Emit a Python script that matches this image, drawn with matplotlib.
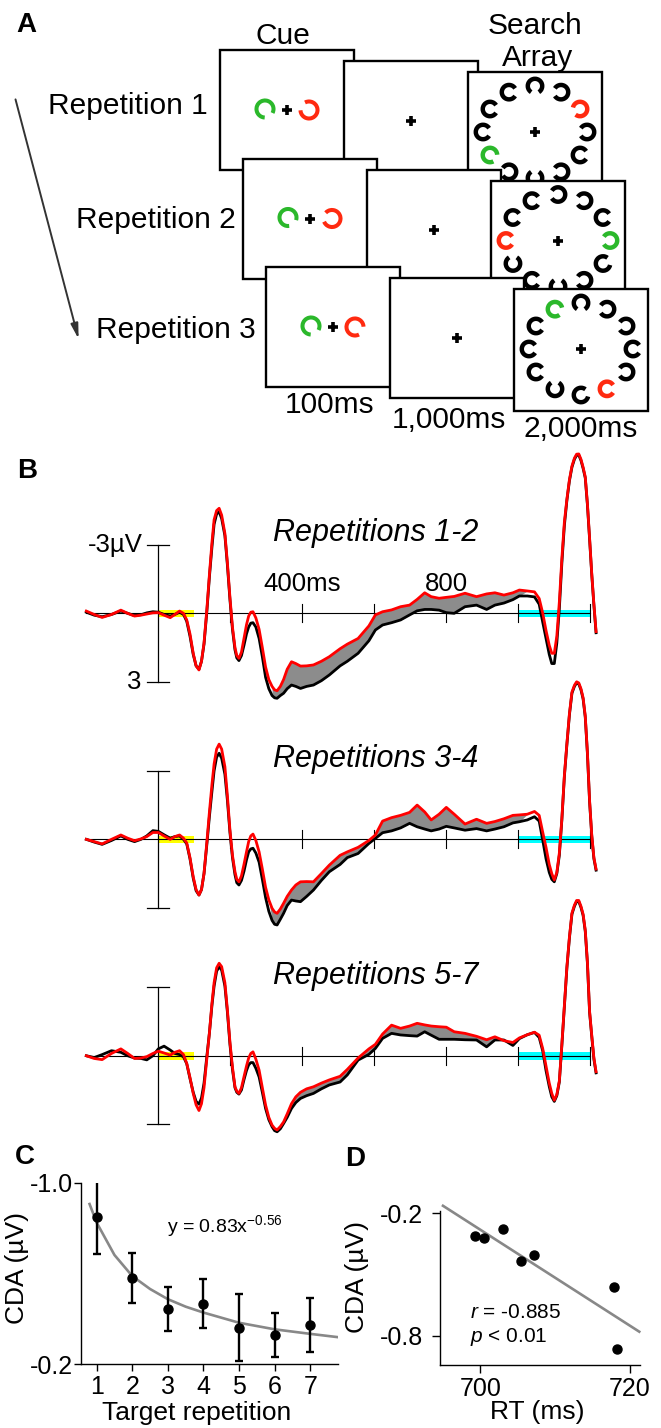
import matplotlib
matplotlib.use("Agg")
import matplotlib.pyplot as plt
from matplotlib.patches import Rectangle, Arc
import numpy as np

plt.rcParams['font.family'] = ['Liberation Sans', 'DejaVu Sans']
plt.rcParams['axes.unicode_minus'] = False
plt.rcParams['mathtext.fontset'] = 'custom'
plt.rcParams['mathtext.rm'] = 'Liberation Sans'
plt.rcParams['mathtext.it'] = 'Liberation Sans:italic'

#--------------------------------------------------------------------
# PANEL A: trial schematic
#--------------------------------------------------------------------
REP_LABELS = ["Repetition 1", "Repetition 2", "Repetition 3"]
DURATIONS = ["100ms", "1,000ms", "2,000ms"]
RING_ANGLES = [90, 60, 30, 0, -30, -60, -90, -120, -150, 180, 150, 120]
GREEN_POS = [-150, 0, 120]
RED_POS = [30, 180, -60]
CUE_GREEN_GAP = [-60, -50, -60]
CUE_RED_GAP = [150, 170, -30]
RING_GAPS = [
    [-90, 180, 200, 180, 0, 180, 90, 180, -30, 0, 0, 0],
    [180, 180, 0, 180, 20, 180, 90, 0, 90, 0, 0, 0],
    [-90, 180, 180, 0, 180, 0, 20, 90, 0, 0, 0, -20],
]

#--------------------------------------------------------------------
# PANEL B: ERP waveforms (ms, µV; negative up)
#--------------------------------------------------------------------
T_MS = [
    -200, -178, -156, -130, -104, -85, -66, -48, -32, -15,
    0, 16, 33, 46, 59, 70, 79, 88, 97, 105,
    113, 120, 127, 135, 142, 149, 155, 162, 169, 176,
    185, 192, 199, 206, 213, 218, 224, 231, 238, 245,
    251, 257, 263, 271, 280, 289, 298, 307, 316, 323,
    330, 339, 348, 358, 370, 382, 395, 412, 431, 453,
    475, 505, 525, 555, 585, 603, 623, 648, 673, 698,
    719, 740, 758, 780, 800, 822, 852, 884, 912, 935,
    960, 985, 1003, 1025, 1045, 1058, 1068, 1077, 1086, 1093,
    1100, 1107, 1114, 1121, 1128, 1135, 1142, 1149, 1156, 1162,
    1168, 1174, 1180, 1186, 1192, 1198, 1204, 1210, 1216,
]
RED_12 = [
    -0.10, 0.05, 0.18, 0.05, -0.14, 0.00, 0.12, 0.08, 0.03, -0.02,
    -0.03, 0.08, 0.19, 0.05, -0.10, 0.00, 0.29, 0.90, 1.75, 2.30,
    2.48, 2.10, 1.30, -0.20, -1.70, -3.10, -4.10, -4.50, -4.60, -4.30,
    -3.50, -2.20, -0.70, 0.60, 1.50, 1.85, 1.97, 1.70, 1.10, 0.50,
    0.12, -0.05, -0.07, 0.20, 0.70, 1.50, 2.35, 2.90, 3.20, 3.35,
    3.39, 3.20, 2.90, 2.45, 2.12, 2.20, 2.31, 2.30, 2.26, 2.10,
    1.90, 1.55, 1.35, 1.10, 0.55, 0.07, -0.07, -0.15, -0.29, -0.36,
    -0.61, -0.90, -0.73, -0.66, -0.70, -0.74, -0.88, -0.73, -0.85, -0.90,
    -0.80, -0.90, -1.02, -0.98, -0.94, -0.65, 0.00, 0.75, 1.40, 1.75,
    1.75, 1.00, -0.50, -2.40, -4.00, -5.00, -5.85, -6.45, -6.80, -6.97,
    -6.98, -6.75, -6.40, -5.98, -4.80, -3.30, -1.75, -0.40, 0.80,
]
BLACK_12 = [
    -0.05, 0.08, 0.15, 0.05, -0.10, 0.00, 0.10, 0.06, -0.02, -0.07,
    -0.05, 0.05, 0.12, 0.05, -0.05, 0.05, 0.35, 1.00, 1.80, 2.30,
    2.45, 2.10, 1.35, -0.10, -1.60, -2.90, -3.90, -4.35, -4.45, -4.15,
    -3.40, -2.10, -0.60, 0.70, 1.60, 1.95, 2.07, 1.85, 1.40, 0.90,
    0.60, 0.43, 0.41, 0.60, 1.10, 1.90, 2.80, 3.30, 3.60, 3.70,
    3.72, 3.60, 3.50, 3.30, 3.14, 3.20, 3.29, 3.20, 3.14, 2.95,
    2.70, 2.30, 2.10, 1.75, 1.20, 0.73, 0.51, 0.41, 0.29, 0.07,
    -0.11, -0.17, -0.17, -0.14, -0.03, 0.00, -0.29, -0.36, -0.17, -0.36,
    -0.45, -0.60, -0.76, -0.76, -0.72, -0.40, 0.40, 1.10, 1.80, 2.20,
    2.20, 1.30, -0.20, -2.20, -3.85, -4.95, -5.80, -6.40, -6.75, -6.92,
    -6.93, -6.70, -6.35, -5.93, -4.75, -3.25, -1.70, -0.35, 0.85,
]
RED_34 = [
    0.00, 0.10, 0.20, 0.00, -0.19, -0.05, 0.06, -0.02, -0.12, -0.30,
    -0.30, -0.15, 0.00, -0.12, -0.19, -0.05, 0.16, 0.80, 1.64, 2.20,
    2.44, 2.20, 1.50, 0.10, -1.20, -2.40, -3.30, -3.95, -4.17, -3.95,
    -3.18, -1.90, -0.41, 0.70, 1.42, 1.75, 1.86, 1.60, 1.10, 0.55,
    0.10, -0.15, -0.23, 0.05, 0.55, 1.30, 2.10, 2.65, 3.02, 3.18,
    3.24, 3.05, 2.80, 2.50, 2.22, 2.00, 1.86, 1.85, 1.86, 1.50,
    1.13, 0.70, 0.55, 0.35, 0.05, -0.19, -0.80, -0.95, -1.05, -1.18,
    -1.50, -1.20, -0.85, -1.10, -1.40, -1.10, -0.67, -0.88, -0.70, -0.78,
    -0.90, -1.05, -1.07, -1.10, -1.22, -1.05, -0.30, 0.35, 1.10, 1.50,
    1.78, 1.45, 0.60, -0.90, -2.80, -4.20, -5.50, -6.45, -6.75, -6.90,
    -6.85, -6.60, -6.20, -5.40, -3.80, -1.70, -0.20, 0.80, 1.30,
]
BLACK_34 = [
    0.00, 0.12, 0.22, 0.05, -0.15, 0.00, 0.10, 0.00, -0.15, -0.38,
    -0.35, -0.20, -0.05, -0.12, -0.15, 0.00, 0.20, 0.85, 1.70, 2.25,
    2.44, 2.20, 1.50, 0.20, -1.00, -2.10, -3.00, -3.60, -3.77, -3.55,
    -2.85, -1.70, -0.30, 0.80, 1.55, 1.90, 2.00, 1.80, 1.40, 0.90,
    0.55, 0.42, 0.39, 0.60, 1.00, 1.75, 2.55, 3.15, 3.55, 3.72,
    3.75, 3.50, 3.24, 2.90, 2.66, 2.70, 2.73, 2.50, 2.22, 1.80,
    1.42, 1.10, 0.80, 0.62, 0.18, -0.04, -0.29, -0.37, -0.50, -0.70,
    -0.55, -0.45, -0.37, -0.45, -0.57, -0.50, -0.40, -0.47, -0.37, -0.45,
    -0.55, -0.72, -0.77, -0.85, -0.99, -0.80, 0.05, 0.85, 1.45, 1.75,
    1.86, 1.50, 0.70, -0.85, -2.75, -4.15, -5.45, -6.40, -6.70, -6.85,
    -6.80, -6.55, -6.15, -5.35, -3.75, -1.65, -0.15, 0.85, 1.35,
]
RED_57 = [
    0.00, 0.12, 0.17, -0.10, -0.30, -0.10, 0.12, 0.10, 0.04, -0.10,
    -0.20, -0.12, -0.03, -0.15, -0.22, -0.05, 0.34, 0.95, 1.65, 2.15,
    2.40, 2.10, 1.40, 0.10, -1.00, -2.30, -3.20, -3.85, -4.05, -3.90,
    -3.20, -2.00, -0.60, 0.50, 1.36, 1.55, 1.65, 1.40, 0.92, 0.45,
    0.10, -0.10, -0.17, 0.15, 0.63, 1.40, 2.16, 2.70, 3.04, 3.18,
    3.25, 3.10, 2.90, 2.55, 2.10, 1.80, 1.60, 1.45, 1.36, 1.20,
    1.06, 0.90, 0.60, 0.10, -0.30, -0.50, -0.95, -1.34, -1.20, -1.30,
    -1.42, -1.35, -1.30, -1.27, -1.25, -1.05, -0.98, -0.85, -0.70, -0.83,
    -0.66, -0.58, -0.78, -0.92, -1.03, -0.90, -0.30, 0.45, 1.20, 1.65,
    1.95, 1.70, 1.10, -0.50, -2.20, -3.90, -5.20, -6.25, -6.60, -6.80,
    -6.80, -6.55, -6.20, -5.50, -4.10, -1.95, -0.90, 0.10, 0.70,
]
BLACK_57 = [
    0.00, 0.08, -0.05, -0.22, -0.15, 0.00, 0.10, 0.12, 0.18, 0.00,
    -0.30, -0.42, -0.25, -0.10, -0.05, 0.05, 0.35, 1.00, 1.60, 2.00,
    2.12, 1.85, 1.20, 0.00, -1.00, -2.20, -3.05, -3.70, -3.90, -3.75,
    -3.05, -1.90, -0.50, 0.60, 1.40, 1.60, 1.68, 1.50, 1.05, 0.65,
    0.40, 0.30, 0.30, 0.55, 0.93, 1.60, 2.31, 2.80, 3.11, 3.28,
    3.33, 3.20, 2.97, 2.70, 2.31, 2.05, 1.87, 1.75, 1.65, 1.45,
    1.28, 1.15, 0.84, 0.19, -0.06, -0.32, -0.76, -0.98, -0.91, -0.88,
    -0.86, -1.05, -0.90, -0.72, -0.72, -0.72, -0.70, -0.69, -0.39, -0.69,
    -0.69, -0.45, -0.75, -0.92, -1.02, -0.80, -0.20, 0.65, 1.35, 1.80,
    2.00, 1.75, 1.15, -0.45, -2.15, -3.85, -5.15, -6.20, -6.55, -6.75,
    -6.75, -6.50, -6.15, -5.45, -4.05, -1.90, -0.85, 0.15, 0.75,
]
TITLES_B = ["Repetitions 1-2", "Repetitions 3-4", "Repetitions 5-7"]
TICKS_MS = [200, 400, 600, 800, 1000, 1200]
CUE_WIN = [0, 100]
SEARCH_WIN = [1000, 1200]
FILL_WIN = [316, 1003]

#--------------------------------------------------------------------
# PANEL C: CDA by repetition
#--------------------------------------------------------------------
REPS = [1, 2, 3, 4, 5, 6, 7]
CDA_MEAN = [-0.847, -0.578, -0.441, -0.466, -0.360, -0.327, -0.371]
CDA_ERR = [0.16, 0.11, 0.097, 0.108, 0.147, 0.097, 0.119]
FIT_X = [0.8, 1.0, 1.5, 2.0, 2.5, 3.0, 3.5, 4.0, 5.0, 6.0, 7.0, 7.8]
FIT_Y = [-0.906, -0.824, -0.681, -0.588, -0.531, -0.486, -0.453, -0.427,
         -0.382, -0.353, -0.333, -0.318]

#--------------------------------------------------------------------
# PANEL D: CDA vs RT
#--------------------------------------------------------------------
RT_MS = [699.3, 700.45, 702.99, 705.45, 707.23, 717.85, 718.3]
CDA_D = [-0.311, -0.319, -0.275, -0.432, -0.402, -0.559, -0.865]
REG_X = [695.0, 721.3]
REG_Y = [-0.163, -0.779]

W, H = 661, 1428
fig = plt.figure(figsize=(W / 100, H / 100), dpi=100)


def px_axes(left, top, right, bottom):
    return fig.add_axes([left / W, 1 - bottom / H, (right - left) / W, (bottom - top) / H])


def fig_text(x, y, s, **kw):
    fig.text(x / W, 1 - y / H, s, **kw)


def landolt(ax, x, y, rad, gap, color, lw, z):
    half = 32
    ax.add_patch(Arc((x, y), 2 * rad, 2 * rad, theta1=-(gap + 360 - half),
                     theta2=-(gap + half), color=color, lw=lw, zorder=z))


GREEN = '#2bb82b'
RED = '#ff2a10'

#--------------------------------------------------------------------
# A
#--------------------------------------------------------------------
axA = px_axes(0, 0, W, 450)
axA.set_xlim(0, W)
axA.set_ylim(450, 0)
axA.axis('off')

for r in range(3):
    for c in range(3):
        x0 = 220 + 23 * r + 124 * c
        y0 = 50 + 108.5 * r + 11 * c
        z = 10 * (3 * r + c) + 1
        bh = 122 if c == 2 else 120
        axA.add_patch(Rectangle((x0, y0), 134, bh, fc='white', ec='black', lw=1.7, zorder=z))
        cx, cy = x0 + 67, y0 + 60
        axA.plot(cx, cy, marker='+', ms=7, mew=2.6, color='k', zorder=z + 1)
        if c == 0:
            landolt(axA, cx - 22, cy - 1, 8.5, CUE_GREEN_GAP[r], GREEN, 2.9, z + 1)
            landolt(axA, cx + 22, cy, 8.5, CUE_RED_GAP[r], RED, 2.9, z + 1)
        elif c == 2:
            for k, ang in enumerate(RING_ANGLES):
                px = cx + 52 * np.cos(np.radians(ang))
                py = cy - 46 * np.sin(np.radians(ang))
                col = 'black'
                if ang == GREEN_POS[r]:
                    col = GREEN
                elif ang == RED_POS[r]:
                    col = RED
                landolt(axA, px, py, 7.2, RING_GAPS[r][k], col, 3.2, z + 1)

axA.annotate('', xy=(79.3, 341.7), xytext=(14.8, 96.7),
             arrowprops=dict(arrowstyle='-|>,head_length=0.9,head_width=0.22',
                             color='#333333', lw=1.4))

FS_A = 21.5
fig_text(283, 36, 'Cue', ha='center', va='center', size=FS_A)
fig_text(535, 26, 'Search', ha='center', va='center', size=FS_A)
fig_text(538, 58, 'Array', ha='center', va='center', size=FS_A)
for lbl, xr, yc in zip(REP_LABELS, [207.6, 236, 256], [106, 220, 330]):
    fig_text(xr, yc, lbl, ha='right', va='center', size=FS_A)
for lbl, xc, yc in zip(DURATIONS, [330, 449, 581], [405, 420, 429]):
    fig_text(xc, yc, lbl, ha='center', va='center', size=FS_A)

#--------------------------------------------------------------------
# B
#--------------------------------------------------------------------
t = np.array(T_MS, dtype=float)
BASELINES = [613.3, 839.3, 1055.7]
series = [(RED_12, BLACK_12), (RED_34, BLACK_34), (RED_57, BLACK_57)]
for i, (red, black) in enumerate(series):
    red = np.array(red)
    black = np.array(black)
    b = BASELINES[i]
    ax = px_axes(75.5, b - 175.1, 604.7, b + 90)
    ax.set_xlim(-230, 1240)
    ax.set_ylim(3.94, -7.67)
    ax.axis('off')
    ax.patch.set_alpha(0)

    ax.add_patch(Rectangle((CUE_WIN[0], -0.15), CUE_WIN[1] - CUE_WIN[0], 0.32,
                           fc='#ffff00', ec='none', zorder=1))
    ax.add_patch(Rectangle((SEARCH_WIN[0], -0.15), SEARCH_WIN[1] - SEARCH_WIN[0], 0.32,
                           fc='#00ffff', ec='none', zorder=1))
    ax.plot([-200, 1200], [0, 0], color='k', lw=0.8, zorder=2)
    for tm in TICKS_MS:
        ax.plot([tm, tm], [-0.4, 0.4], color='k', lw=0.8, zorder=2)
    ax.plot([0, 0], [-3, 3], color='k', lw=0.9, zorder=2)
    ax.plot([-31, 31], [-3, -3], color='k', lw=0.9, zorder=2)
    ax.plot([-31, 31], [3, 3], color='k', lw=0.9, zorder=2)

    mask = (t >= FILL_WIN[0]) & (t <= FILL_WIN[1]) & (red < black)
    ax.fill_between(t, red, black, where=mask, color='#8c8c8c', lw=0,
                    interpolate=True, zorder=3)
    ax.plot(t, black, color='k', lw=2.0, solid_joinstyle='round', zorder=4)
    ax.plot(t, red, color='#ff0000', lw=2.0, solid_joinstyle='round', zorder=5)

    ax.text(605, -3.5, TITLES_B[i], ha='center', va='center', style='italic', size=22)
    if i == 0:
        ax.text(-42, -3, '-3µV', ha='right', va='center', size=18.5)
        ax.text(-46, 3, '3', ha='right', va='center', size=18.5)
        ax.text(400, -1.3, '400ms', ha='center', va='center', size=18.5)
        ax.text(800, -1.3, '800', ha='center', va='center', size=18.5)

#--------------------------------------------------------------------
# C
#--------------------------------------------------------------------
axC = px_axes(81, 1182.7, 338, 1364)
axC.plot(FIT_X, FIT_Y, color='#888888', lw=1.9, zorder=2)
axC.errorbar(REPS, CDA_MEAN, yerr=CDA_ERR, fmt='o', color='k', ms=6.5,
             elinewidth=1.7, capsize=3, capthick=1.7, zorder=3)
axC.set_xlim(0.56, 7.78)
axC.set_ylim(-0.2, -1.0)
axC.set_xticks(REPS)
axC.set_yticks([-1.0, -0.2])
axC.set_yticklabels(['-1.0', '-0.2'])
for s in ['top', 'right']:
    axC.spines[s].set_visible(False)
for s in ['left', 'bottom']:
    axC.spines[s].set_linewidth(1.0)
axC.tick_params(axis='x', length=5, width=1, labelsize=18, pad=3)
axC.tick_params(axis='y', length=5, width=1, labelsize=18, pad=1)
axC.patch.set_alpha(0)
fig_text(197, 1413, 'Target repetition', ha='center', va='center', size=19)
fig_text(17, 1268, 'CDA (µV)', ha='center', va='center', rotation=90, size=19)
fig_text(167, 1226, r'y = 0.83x$^{\mathrm{-0.56}}$', ha='left', va='center', size=14)

#--------------------------------------------------------------------
# D
#--------------------------------------------------------------------
axD = px_axes(440, 1211.3, 640, 1365)
axD.plot(REG_X, REG_Y, color='#888888', lw=1.9, clip_on=False, zorder=2)
axD.plot(RT_MS, CDA_D, 'o', color='k', ms=6.5, zorder=3)
axD.set_xlim(694.6, 721.4)
axD.set_ylim(-0.942, -0.19)
axD.set_xticks([700, 720])
axD.set_yticks([-0.2, -0.8])
axD.set_yticklabels(['-0.2', '-0.8'])
for s in ['top', 'right']:
    axD.spines[s].set_visible(False)
for s in ['left', 'bottom']:
    axD.spines[s].set_linewidth(1.0)
axD.tick_params(axis='x', length=6, width=1, labelsize=18, pad=3)
axD.tick_params(axis='y', length=6, width=1, labelsize=18, pad=6)
axD.patch.set_alpha(0)
fig_text(537, 1412, 'RT (ms)', ha='center', va='center', size=19)
fig_text(357, 1277, 'CDA (µV)', ha='center', va='center', rotation=90, size=19)
fig_text(470, 1313, r'$\mathit{r}$ = -0.885', ha='left', va='center', size=15)
fig_text(470, 1337, r'$\mathit{p}$ < 0.01', ha='left', va='center', size=15)

#--------------------------------------------------------------------
# panel letters
#--------------------------------------------------------------------
for lbl, x, y in [('A', 26, 25), ('B', 27, 471), ('C', 25, 1157), ('D', 355, 1159)]:
    fig_text(x, y, lbl, ha='center', va='center', size=20, weight='bold')

fig.savefig('out.png', dpi=100)
